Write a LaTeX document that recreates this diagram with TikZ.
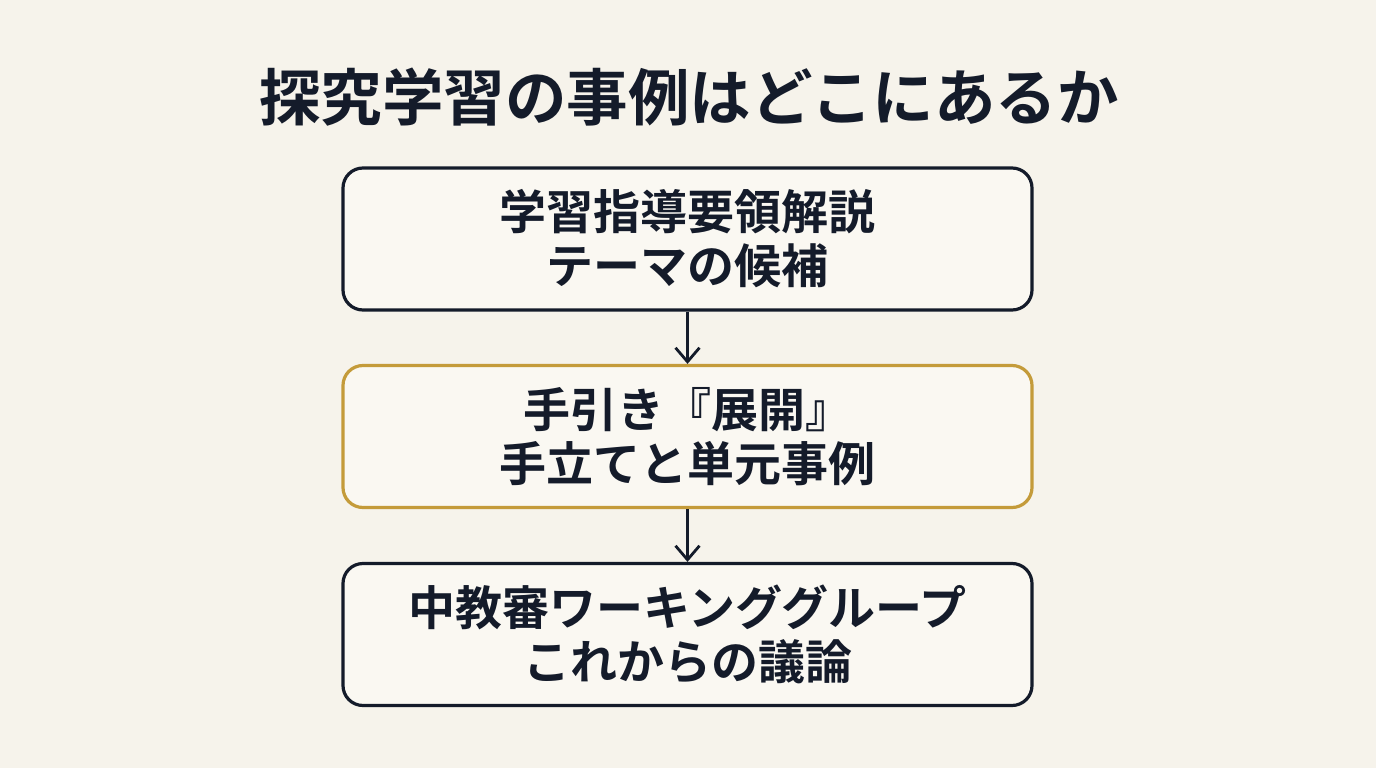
\documentclass[tikz,border=0pt]{standalone}
\usepackage{fontspec}
\setmainfont{Noto Sans CJK JP}
\newfontfamily\cjkb{Noto Sans CJK JP Bold}
\usetikzlibrary{arrows.meta}
\definecolor{bg}{HTML}{F6F3EB}
\definecolor{boxfill}{HTML}{FAF8F2}
\definecolor{ink}{HTML}{141B2A}
\definecolor{gold}{HTML}{C49B3A}
\begin{document}
\begin{tikzpicture}[x=1pt,y=-1pt,
  stepbox/.style={draw=ink,line width=3.2pt,rounded corners=20pt,fill=boxfill,
    minimum width=689pt,minimum height=142pt,inner sep=0pt,align=center,
    text=ink,font=\cjkb\fontsize{47}{54}\selectfont},
  flow/.style={draw=ink,line width=2.8pt,-{Straight Barb[length=14pt,width=24pt,line width=2.8pt]}}]
\useasboundingbox (0,0) rectangle (1376,768);
\fill[bg] (0,0) rectangle (1376,768);
\node[text=ink,font=\cjkb\fontsize{61.5}{66}\selectfont] (title) at (689,97) {探究学習の事例はどこにあるか};
\node[stepbox] (b1) at (687.5,239) {学習指導要領解説\\テーマの候補};
\node[stepbox,draw=gold] (b2) at (687.5,436.5) {手引き『展開』\\手立てと単元事例};
\node[stepbox] (b3) at (687.5,634.5) {中教審ワーキンググループ\\これからの議論};
\draw[flow] (b1.south) -- (b2.north);
\draw[flow] (b2.south) -- (b3.north);
\end{tikzpicture}
\end{document}
